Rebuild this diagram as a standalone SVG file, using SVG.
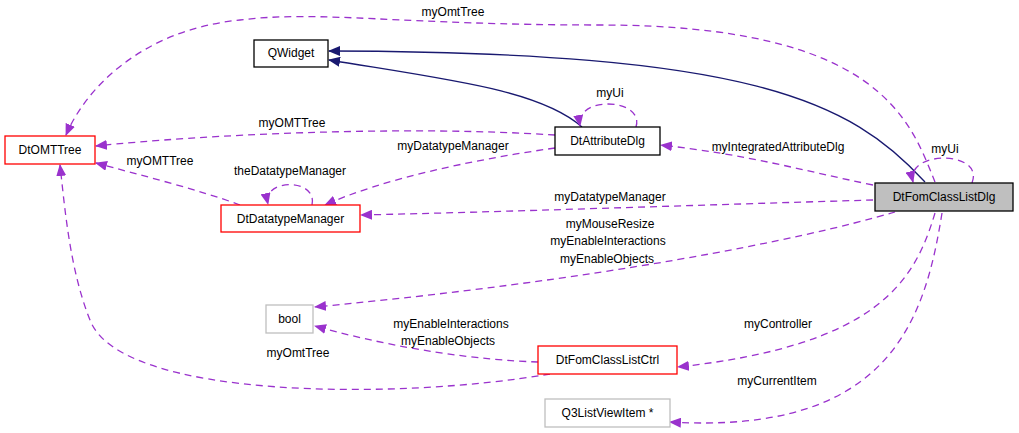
<svg xmlns="http://www.w3.org/2000/svg" width="1019" height="433" viewBox="0 0 1019 433">
<style>
text{font-family:"Liberation Sans",Arial,sans-serif;font-size:12px;fill:#000}
.n{fill:#fff;stroke-width:1.3}
.b{stroke:#000}.r{stroke:#f00}.g{stroke:#bfbfbf}
.d{fill:none;stroke:#9a32cd;stroke-dasharray:7,5;stroke-width:1.3}
.s{fill:none;stroke:#191970;stroke-width:1.3}
</style>
<defs>
<marker id="pa" markerWidth="12" markerHeight="10" refX="11" refY="5" orient="auto" markerUnits="userSpaceOnUse"><path d="M0,0L12,5L0,10z" fill="#9a32cd"/></marker>
<marker id="ba" markerWidth="12" markerHeight="10" refX="11" refY="5" orient="auto" markerUnits="userSpaceOnUse"><path d="M0,0L12,5L0,10z" fill="#191970"/></marker>
</defs>
<rect width="1019" height="433" fill="#fff"/>
<g id="edges">
<path class="s" d="M925,182C850,100 750,52 329,51" marker-end="url(#ba)"/>
<path class="s" d="M582,127C540,90 450,80 329,60" marker-end="url(#ba)"/>
<path class="d" d="M935,182C910,120 880,25 600,25C400,25 320,10 240,20C140,30 85,90 66,135" marker-end="url(#pa)"/>
<path class="d" d="M555,135C400,125 200,135 96,146" marker-end="url(#pa)"/>
<path class="d" d="M555,148C470,160 380,180 325,205" marker-end="url(#pa)"/>
<path class="d" d="M240,205C200,190 140,175 96,163" marker-end="url(#pa)"/>
<path class="d" d="M636,127C645,98 575,95 580,126" marker-end="url(#pa)"/>
<path class="d" d="M312,205C318,178 262,178 268,204" marker-end="url(#pa)"/>
<path class="d" d="M873,185C800,170 750,155 661,145" marker-end="url(#pa)"/>
<path class="d" d="M873,200C700,205 500,212 361,215" marker-end="url(#pa)"/>
<path class="d" d="M895,212C800,240 600,280 315,307" marker-end="url(#pa)"/>
<path class="d" d="M972,183C985,150 905,150 913,182" marker-end="url(#pa)"/>
<path class="d" d="M935,213C915,280 880,345 678,367" marker-end="url(#pa)"/>
<path class="d" d="M942,213C925,320 890,435 670,422" marker-end="url(#pa)"/>
<path class="d" d="M538,362C480,360 400,350 315,326" marker-end="url(#pa)"/>
<path class="d" d="M550,374C400,400 120,400 90,320C70,270 65,210 60,165" marker-end="url(#pa)"/>
</g>
<g id="labels">
<text x="453" y="16" text-anchor="middle">myOmtTree</text>
<text x="292" y="127" text-anchor="middle">myOMTTree</text>
<text x="453" y="150" text-anchor="middle">myDatatypeManager</text>
<text x="160" y="165" text-anchor="middle">myOMTTree</text>
<text x="290" y="175" text-anchor="middle">theDatatypeManager</text>
<text x="610" y="97" text-anchor="middle">myUi</text>
<text x="778" y="151" text-anchor="middle">myIntegratedAttributeDlg</text>
<text x="945" y="153" text-anchor="middle">myUi</text>
<text x="610" y="201" text-anchor="middle">myDatatypeManager</text>
<text x="610" y="228" text-anchor="middle">myMouseResize</text>
<text x="608" y="245" text-anchor="middle">myEnableInteractions</text>
<text x="607" y="263" text-anchor="middle">myEnableObjects</text>
<text x="451" y="328" text-anchor="middle">myEnableInteractions</text>
<text x="448" y="345" text-anchor="middle">myEnableObjects</text>
<text x="298" y="357" text-anchor="middle">myOmtTree</text>
<text x="778" y="328" text-anchor="middle">myController</text>
<text x="777" y="385" text-anchor="middle">myCurrentItem</text>
</g>
<g id="QWidget"><rect class="n b" x="254" y="40" width="74" height="27"/><text x="291" y="57" text-anchor="middle">QWidget</text></g>
<g id="DtOMTTree"><rect class="n r" x="5" y="136" width="90" height="28"/><text x="50" y="154" text-anchor="middle">DtOMTTree</text></g>
<g id="DtAttributeDlg"><rect class="n b" x="555" y="127" width="105" height="28"/><text x="607.5" y="145" text-anchor="middle">DtAttributeDlg</text></g>
<g id="DtDatatypeManager"><rect class="n r" x="221" y="205" width="139" height="27"/><text x="290.5" y="223" text-anchor="middle">DtDatatypeManager</text></g>
<g id="DtFomClassListDlg"><rect x="875" y="183" width="138" height="28" fill="#bfbfbf" stroke="#000" stroke-width="1.3"/><text x="944" y="201" text-anchor="middle">DtFomClassListDlg</text></g>
<g id="bool"><rect class="n g" x="266" y="305" width="47" height="28"/><text x="289.5" y="323" text-anchor="middle">bool</text></g>
<g id="DtFomClassListCtrl"><rect class="n r" x="538" y="346" width="139" height="28"/><text x="607.5" y="364" text-anchor="middle">DtFomClassListCtrl</text></g>
<g id="Q3ListViewItem"><rect class="n g" x="545" y="399" width="125" height="28"/><text x="607.5" y="417" text-anchor="middle">Q3ListViewItem *</text></g>
</svg>
